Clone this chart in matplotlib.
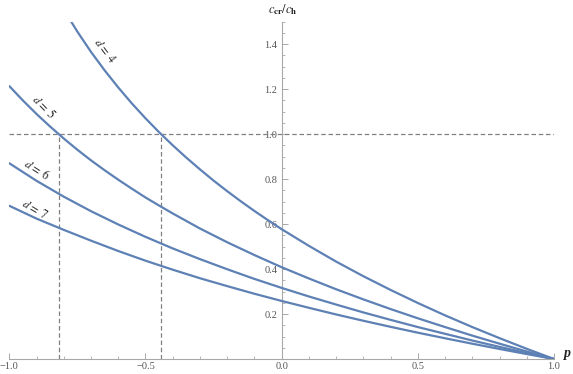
import matplotlib
matplotlib.use("Agg")
import matplotlib.pyplot as plt
from matplotlib.ticker import MultipleLocator, FixedLocator

# ---- data ----
p_d4 = [-0.8, -0.75, -0.7, -0.65, -0.6, -0.55, -0.5, -0.45, -0.4, -0.35, -0.3, -0.25,
        -0.2, -0.15, -0.1, -0.05, 0.0, 0.1, 0.2, 0.3, 0.4, 0.5, 0.6, 0.7, 0.8, 0.9, 1.0]
ratio_d4 = [1.553, 1.455, 1.365, 1.283, 1.207, 1.136, 1.070, 1.008, 0.950, 0.895, 0.843, 0.793,
            0.746, 0.701, 0.658, 0.617, 0.577, 0.503, 0.433, 0.368, 0.307, 0.249, 0.194,
            0.142, 0.0927, 0.0453, 0.0]
p_d5 = [-1.0, -0.95, -0.9, -0.85, -0.8, -0.75, -0.7, -0.65, -0.6, -0.55, -0.5, -0.45, -0.4,
        -0.3, -0.2, -0.1, 0.0, 0.1, 0.2, 0.3, 0.4, 0.5, 0.6, 0.7, 0.8, 0.9, 1.0]
ratio_d5 = [1.213, 1.149, 1.089, 1.033, 0.980, 0.930, 0.883, 0.839, 0.797, 0.757, 0.718, 0.682,
            0.647, 0.580, 0.519, 0.462, 0.408, 0.358, 0.310, 0.265, 0.222, 0.181, 0.142,
            0.104, 0.0681, 0.0334, 0.0]
p_d67 = [-1.0, -0.9, -0.8, -0.7, -0.6, -0.5, -0.4, -0.3, -0.2, -0.1, 0.0,
         0.1, 0.2, 0.3, 0.4, 0.5, 0.6, 0.7, 0.8, 0.9, 1.0]
ratio_d6 = [0.870, 0.792, 0.7215, 0.657, 0.598, 0.543, 0.4915, 0.444, 0.399, 0.356, 0.316,
            0.278, 0.242, 0.207, 0.174, 0.142, 0.112, 0.0822, 0.0539, 0.0265, 0.0]
ratio_d7 = [0.681, 0.624, 0.574, 0.526, 0.480, 0.437, 0.397, 0.359, 0.324, 0.290, 0.258,
            0.2276, 0.198, 0.170, 0.143, 0.117, 0.0922, 0.068, 0.0446, 0.022, 0.0]
curve_labels = ["4", "5", "6", "7"]
crossings = [-0.818, -0.443]   # p where d=5 and d=4 reach c_cr/c_h = 1
x_ticks = [-1.0, -0.5, 0.0, 0.5, 1.0]
x_tick_labels = ["\u22121.0", "\u22120.5", "0.0", "0.5", "1.0"]
y_ticks = [0.2, 0.4, 0.6, 0.8, 1.0, 1.2, 1.4]
y_tick_labels = ["0.2", "0.4", "0.6", "0.8", "1.0", "1.2", "1.4"]

plt.rcParams['mathtext.fontset'] = 'stix'
plt.rcParams['font.family'] = ['Liberation Serif', 'DejaVu Serif']

BLUE = '#5E81B5'
AXC = '#a8a8a8'
TXT = '#555555'

fig = plt.figure(figsize=(5.73, 3.74), dpi=100)
ax = fig.add_axes([0.0162, 0.0401, 0.9506, 0.9024])

series = [(p_d4, ratio_d4), (p_d5, ratio_d5), (p_d67, ratio_d6), (p_d67, ratio_d7)]
for xs, ys in series:
    ax.plot(xs, ys, color=BLUE, lw=1.6, solid_capstyle='round', solid_joinstyle='round', zorder=3)

# reference dashed lines
ax.axhline(1.0, color='#808080', lw=0.9, dashes=(3.6, 2.2), zorder=2)
for c in crossings:
    ax.plot([c, c], [0, 1.0], color='#808080', lw=0.9, dashes=(3.6, 2.2), zorder=2)

# curve labels
label_pos = [(-0.650, 1.372, -53), (-0.874, 1.122, -46), (-0.900, 0.843, -33), (-0.907, 0.664, -31)]
for lab, (x, y, r) in zip(curve_labels, label_pos):
    ax.text(x, y, r'$d\,=\,%s$' % lab, rotation=r, fontsize=8.5, ha='center', va='center',
            rotation_mode='anchor', color='#222222')

ax.set_xlim(-1.0, 1.0)
ax.set_ylim(0, 1.5)

for s in ['top', 'right']:
    ax.spines[s].set_visible(False)
ax.spines['left'].set_position(('data', 0))
ax.spines['bottom'].set_position(('data', 0))
for s in ['left', 'bottom']:
    ax.spines[s].set_color(AXC)
    ax.spines[s].set_linewidth(0.8)

ax.xaxis.set_major_locator(FixedLocator(x_ticks))
ax.set_xticklabels(x_tick_labels)
ax.xaxis.set_minor_locator(MultipleLocator(0.1))
ax.yaxis.set_major_locator(FixedLocator(y_ticks))
ax.set_yticklabels(y_tick_labels)
ax.yaxis.set_minor_locator(MultipleLocator(0.05))

ax.tick_params(which='major', direction='in', length=4, width=0.7, color=AXC,
               labelsize=7.5, labelcolor=TXT)
ax.tick_params(which='minor', direction='in', length=2.2, width=0.6, color=AXC)
ax.tick_params(axis='x', which='major', pad=2)
ax.tick_params(axis='y', which='major', pad=3)

fig.text(283 / 573, 1 - 10 / 374, r'$c_{\mathbf{cr}}/c_{\mathbf{h}}$', ha='center', va='center',
         fontsize=9, color='#222222')
fig.text(567 / 573, 1 - 354 / 374, 'p', ha='center', va='center', fontsize=10,
         style='italic', weight='bold', color='#222222')

fig.savefig('out.png', dpi=100)
